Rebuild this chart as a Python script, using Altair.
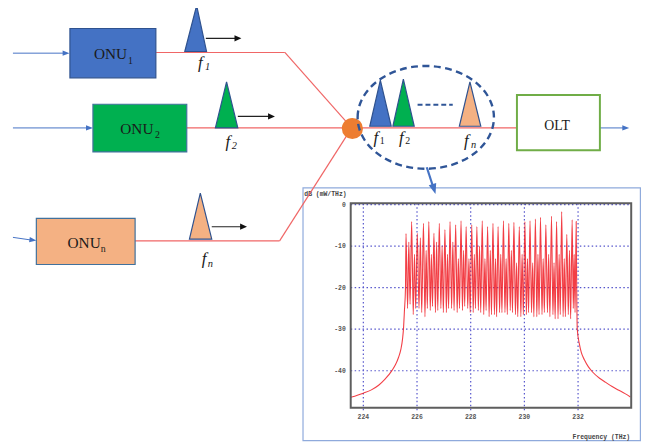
import altair as alt
import pandas as pd

# ---------------- spectrum ----------------
skirt_left_freq = [223.53, 224.0, 224.3, 224.57, 224.8, 225.07, 225.2, 225.31, 225.4,
                   225.46, 225.5, 225.53, 225.57]
skirt_left_db = [-46.4, -45.4, -44.6, -43.5, -42.1, -39.9, -38.5, -36.8, -34.8,
                 -32.4, -29.5, -25.7, -20.2]

peak_freq = [225.59, 225.80, 226.01, 226.24, 226.44, 226.63, 226.83, 227.04, 227.23,
             227.44, 227.64, 227.83, 228.04, 228.23, 228.43, 228.63, 228.83, 229.02,
             229.22, 229.42, 229.61, 229.81, 230.02, 230.21, 230.41, 230.60, 230.80,
             231.01, 231.20, 231.39, 231.58, 231.78, 231.93]
peak_db = [-7.0, -4.1, -6.9, -4.5, -4.1, -6.9, -4.5, -6.0, -4.1, -4.9, -3.9, -5.3,
           -4.9, -5.3, -3.9, -5.3, -4.5, -5.3, -3.9, -4.5, -4.3, -5.3, -4.1, -3.9,
           -3.5, -3.1, -4.9, -2.8, -4.1, -1.7, -7.2, -3.7, -4.1]
valley_a_db = [-25, -26.5, -25, -27, -25.5, -26, -25, -26, -25, -26, -25.5, -25,
               -26, -25.5, -26.5, -27, -26.5, -26, -26, -25.5, -26.5, -27, -26.5, -26,
               -27, -26.5, -26, -26.5, -27.5, -27, -26.5, -25]
shoulder_db = [-9, -12, -8, -11, -12, -9, -10, -12, -9, -13, -11, -13, -12, -10,
               -13, -11, -13, -12, -13, -11, -14, -12, -13, -14, -12, -13, -12, -14,
               -12, -13, -11, -12]
valley_b_db = [-24, -25, -26, -25, -24.5, -25.5, -26, -25, -25.5, -25, -24.5, -26,
               -25, -26, -25.5, -26.5, -27, -26, -26.5, -26, -27, -26.5, -26, -27,
               -26.5, -26, -27, -27.5, -26.5, -27, -27.5, -26]
skirt_right_freq = [231.95, 231.97, 232.05, 232.12, 232.24, 232.38, 232.54, 232.8,
                    233.03, 233.27, 233.52, 233.75, 233.95]
skirt_right_db = [-21.0, -30.0, -33.6, -35.6, -37.4, -39.0, -40.3, -41.8,
                  -42.8, -43.8, -44.7, -45.5, -46.3]

freq_domain = [223.53, 233.98]
db_domain = [-48.9, 0.3]
x_ticks = [224, 226, 228, 230, 232]
y_ticks = [0, -10, -20, -30, -40]

# ---------------- diagram elements (reference pixel coordinates) ----------------
box_x = [70.7, 94.0, 36.7, 523.3]
box_x2 = [157.7, 189.0, 136.7, 607.3]
box_y = [26.0, 102.7, 218.3, 93.3]
box_y2 = [76.0, 151.0, 265.0, 149.3]
box_fill = ["#4472c4", "#00b050", "#f4b183", "#ffffff"]
box_stroke = ["#2f528f", "#41719c", "#41719c", "#70ad47"]
box_sw = [1.2, 1.2, 1.2, 2.0]

inset_box = {"x": 306.7, "x2": 648.3, "y": 187.3, "y2": 443.3}

red_x = [158.0, 288.3, 189.0, 136.7, 283.0, 356.0]
red_y = [50.3, 50.3, 126.7, 241.0, 241.0, 126.7]
red_x2 = [288.3, 356.0, 356.0, 283.0, 356.0, 523.3]
red_y2 = [50.3, 126.7, 126.7, 241.0, 126.7, 126.7]

blue_x = [13.0, 13.0, 13.0, 607.3, 432.0]
blue_y = [51.0, 126.7, 237.5, 126.7, 166.5]
blue_x2 = [67.0, 91.0, 33.5, 634.0, 439.0]
blue_y2 = [51.0, 126.7, 240.5, 126.7, 188.0]
blue_w = [1.0, 1.0, 1.0, 1.0, 2.2]

black_x = [208.3, 240.7, 214.3]
black_y = [36.0, 115.0, 226.7]
black_x2 = [241.0, 275.0, 247.0]

head_blue_x = [66.8, 90.5, 33.2, 633.5, 439.3]
head_blue_y = [51.0, 126.7, 240.3, 126.7, 188.6]
head_blue_angle = [0, 0, 8, 0, 73]
head_blue_size = [49, 49, 49, 49, 110]
head_black_x = [240.8, 274.8, 246.5]
head_black_y = [36.0, 115.0, 226.7]

tri_id = ["t1"] * 3 + ["t2"] * 3 + ["tn"] * 3 + ["e1"] * 3 + ["e2"] * 3 + ["en"] * 3
tri_x = [187.0, 199.0, 209.0, 218.0, 229.3, 240.7, 191.7, 202.7, 214.3,
         374.3, 385.0, 396.0, 397.7, 408.3, 419.3, 465.0, 475.7, 486.7]
tri_y = [49.3, 2.7, 49.3, 126.7, 80.0, 126.7, 239.3, 192.7, 239.3,
         125.0, 78.3, 125.0, 125.0, 77.3, 125.0, 125.0, 80.0, 125.0]
tri_base = [49.3] * 3 + [126.7] * 3 + [239.3] * 3 + [125.0] * 9
tri_fill = ["#4472c4"] * 3 + ["#00b050"] * 3 + ["#f4b183"] * 3 + \
           ["#4472c4"] * 3 + ["#00b050"] * 3 + ["#f4b183"] * 3

combiner = {"x": 356.7, "y": 127.3}
ellipse = {"x": 431.0, "y": 116.0}
dots_line = {"x": 422.7, "x2": 458.3, "y": 103.3}

main_text = ["ONU", "ONU", "ONU", "OLT"]
main_x = [95.0, 121.7, 68.3, 551.0]
main_y = [57.3, 133.3, 248.3, 128.3]
main_size = [15.5, 15.5, 15.5, 14.0]

sub_text = ["1", "2", "n", "1", "2"]
sub_x = [129.5, 156.9, 101.9, 384.3, 410.3]
sub_y = [62.0, 137.0, 252.0, 143.3, 143.3]

f_x = [200.5, 228.2, 204.2, 378.0, 404.0, 469.8]
f_y = [66.0, 146.0, 264.0, 141.5, 141.5, 145.0]

fsub_text = ["1", "2", "n", "n"]
fsub_x = [207.5, 234.5, 210.2, 476.7]
fsub_y = [68.0, 148.0, 267.0, 147.5]

# ---------------- scales ----------------
px_x = alt.Scale(domain=[8, 656], range=[0, 648], nice=False, zero=False)
px_y = alt.Scale(domain=[8, 445], range=[0, 437], nice=False, zero=False)
sp_x = alt.Scale(domain=freq_domain, range=[347, 631], nice=False, zero=False)
sp_y = alt.Scale(domain=db_domain, range=[402, 195], nice=False, zero=False)


def PX(f):
    return alt.X(f, scale=px_x, axis=None)


def PY(f):
    return alt.Y(f, scale=px_y, axis=None)


def SX(f):
    return alt.X(f, scale=sp_x, axis=None)


def SY(f):
    return alt.Y(f, scale=sp_y, axis=None)


# spectrum line table
sf, sd = list(skirt_left_freq), list(skirt_left_db)
for i, (f, d) in enumerate(zip(peak_freq, peak_db)):
    sf.append(f)
    sd.append(d)
    if i < len(peak_freq) - 1:
        g = peak_freq[i + 1] - f
        sf += [f + g * 0.28, f + g * 0.5, f + g * 0.72]
        sd += [valley_a_db[i], shoulder_db[i], valley_b_db[i]]
sf += skirt_right_freq
sd += skirt_right_db
spec = pd.DataFrame({"f": sf, "db": sd})

layers = []

# inset white box
layers.append(alt.Chart(pd.DataFrame([inset_box])).mark_rect(
    fill="white", stroke="#8faadc", strokeWidth=1.2).encode(
    x=PX("x:Q"), x2="x2:Q", y=PY("y:Q"), y2="y2:Q"))

# spectrum grid
vgrid = pd.DataFrame({"f": x_ticks, "lo": [db_domain[0] - 0.6] * len(x_ticks),
                      "hi": [db_domain[1]] * len(x_ticks)})
layers.append(alt.Chart(vgrid).mark_rule(color="#5555cc", strokeWidth=1.2,
                                         strokeDash=[1.5, 2.5]).encode(
    x=SX("f:Q"), y=SY("lo:Q"), y2="hi:Q"))
hgrid = pd.DataFrame({"d": y_ticks, "lo": [freq_domain[0]] * len(y_ticks),
                      "hi": [freq_domain[1]] * len(y_ticks)})
layers.append(alt.Chart(hgrid).mark_rule(color="#5555cc", strokeWidth=1.2,
                                         strokeDash=[1.5, 2.5]).encode(
    y=SY("d:Q"), x=SX("lo:Q"), x2="hi:Q"))

# spectrum line
layers.append(alt.Chart(spec).mark_line(color="#f01c24", strokeWidth=1.1,
                                        opacity=0.85, interpolate="monotone").encode(
    x=SX("f:Q"), y=SY("db:Q"), order="f:Q"))

# frame
frame = pd.DataFrame({"x": [freq_domain[0]], "x2": [freq_domain[1]],
                      "y": [db_domain[0]], "y2": [db_domain[1]]})
layers.append(alt.Chart(frame).mark_rect(fill=None, stroke="#5e5e5e",
                                         strokeWidth=2).encode(
    x=SX("x:Q"), x2="x2:Q", y=SY("y:Q"), y2="y2:Q"))

# tick labels
xl = pd.DataFrame({"f": x_ticks, "d": [db_domain[0]] * len(x_ticks),
                   "t": [str(v) for v in x_ticks]})
layers.append(alt.Chart(xl).mark_text(font="Liberation Mono", fontSize=6.5,
                                      fontWeight="bold", color="#555", dy=9).encode(
    x=SX("f:Q"), y=SY("d:Q"), text="t:N"))
yl = pd.DataFrame({"d": y_ticks, "f": [freq_domain[0]] * len(y_ticks),
                   "t": [str(v) for v in y_ticks]})
layers.append(alt.Chart(yl).mark_text(font="Liberation Mono", fontSize=6.5,
                                      fontWeight="bold", color="#555", align="right",
                                      dx=-5).encode(
    x=SX("f:Q"), y=SY("d:Q"), text="t:N"))

# axis titles of the inset
titles = pd.DataFrame({"x": [308.0], "y": [196.0], "t": ["dB (mW/THz)"]})
layers.append(alt.Chart(titles).mark_text(font="Liberation Mono", fontSize=6.5,
                                          fontWeight="bold", color="#444", align="left",
                                          baseline="alphabetic").encode(
    x=PX("x:Q"), y=PY("y:Q"), text="t:N"))
titles2 = pd.DataFrame({"x": [638.0], "y": [441.5], "t": ["Frequency (THz)"]})
layers.append(alt.Chart(titles2).mark_text(font="Liberation Mono", fontSize=6.5,
                                           fontWeight="bold", color="#444", align="right",
                                           baseline="alphabetic").encode(
    x=PX("x:Q"), y=PY("y:Q"), text="t:N"))

# red fibre lines
red = pd.DataFrame({"x": red_x, "y": red_y, "x2": red_x2, "y2": red_y2})
layers.append(alt.Chart(red).mark_rule(color="#f06666", strokeWidth=1.2).encode(
    x=PX("x:Q"), y=PY("y:Q"), x2="x2:Q", y2="y2:Q"))

# blue arrows
blue = pd.DataFrame({"x": blue_x, "y": blue_y, "x2": blue_x2, "y2": blue_y2, "w": blue_w})
layers.append(alt.Chart(blue).mark_rule(color="#4472c4").encode(
    x=PX("x:Q"), y=PY("y:Q"), x2="x2:Q", y2="y2:Q",
    strokeWidth=alt.StrokeWidth("w:Q", scale=None)))

# black arrows
black = pd.DataFrame({"x": black_x, "y": black_y, "x2": black_x2})
layers.append(alt.Chart(black).mark_rule(color="#222222", strokeWidth=1.1).encode(
    x=PX("x:Q"), y=PY("y:Q"), x2="x2:Q"))

# boxes
boxes = pd.DataFrame({"x": box_x, "x2": box_x2, "y": box_y, "y2": box_y2,
                      "fill": box_fill, "stroke": box_stroke, "sw": box_sw})
layers.append(alt.Chart(boxes).mark_rect().encode(
    x=PX("x:Q"), x2="x2:Q", y=PY("y:Q"), y2="y2:Q",
    fill=alt.Fill("fill:N", scale=None), stroke=alt.Stroke("stroke:N", scale=None),
    strokeWidth=alt.StrokeWidth("sw:Q", scale=None)))

# triangles (frequency carriers)
tri = pd.DataFrame({"id": tri_id, "x": tri_x, "y": tri_y, "b": tri_base, "fill": tri_fill})
layers.append(alt.Chart(tri).mark_area(stroke="#2f528f", strokeWidth=1.2,
                                       interpolate="linear").encode(
    x=PX("x:Q"), y=alt.Y("y:Q", scale=px_y, axis=None, stack=None), y2="b:Q",
    fill=alt.Fill("fill:N", scale=None), detail="id:N"))

# combiner
layers.append(alt.Chart(pd.DataFrame([combiner])).mark_circle(
    color="#ed7d31", opacity=1, size=458).encode(x=PX("x:Q"), y=PY("y:Q")))

# dashed ellipse
layers.append(alt.Chart(pd.DataFrame([ellipse])).mark_point(
    shape="M -1 0 A 1 0.754 0 1 1 1 0 A 1 0.754 0 1 1 -1 0 Z",
    size=19044, filled=False, color="#2f5597", strokeWidth=2.4,
    strokeDash=[7, 4.5], opacity=1).encode(x=PX("x:Q"), y=PY("y:Q")))

# dashed line between carriers
layers.append(alt.Chart(pd.DataFrame([dots_line])).mark_rule(
    color="#2f5597", strokeWidth=2, strokeDash=[5, 3]).encode(
    x=PX("x:Q"), x2="x2:Q", y=PY("y:Q")))

# arrow heads
hb = pd.DataFrame({"x": head_blue_x, "y": head_blue_y, "a": head_blue_angle,
                   "s": head_blue_size})
layers.append(alt.Chart(hb).mark_point(
    shape="M -1 -0.75 L 1 0 L -1 0.75 Z", filled=True, color="#4472c4",
    opacity=1, strokeWidth=0).encode(
    x=PX("x:Q"), y=PY("y:Q"), angle=alt.Angle("a:Q", scale=None),
    size=alt.Size("s:Q", scale=None)))
hk = pd.DataFrame({"x": head_black_x, "y": head_black_y})
layers.append(alt.Chart(hk).mark_point(
    shape="M -1 -0.9 L 1 0 L -1 0.9 Z", filled=True, color="#111111",
    opacity=1, strokeWidth=0, size=49).encode(x=PX("x:Q"), y=PY("y:Q")))

# texts
serif = "Liberation Serif"
mt = pd.DataFrame({"x": main_x, "y": main_y, "t": main_text, "s": main_size})
layers.append(alt.Chart(mt).mark_text(font=serif, align="left", baseline="alphabetic",
                                      color="#1a1a1a").encode(
    x=PX("x:Q"), y=PY("y:Q"), text="t:N", size=alt.Size("s:Q", scale=None)))
st = pd.DataFrame({"x": sub_x, "y": sub_y, "t": sub_text})
layers.append(alt.Chart(st).mark_text(font=serif, align="left", baseline="alphabetic",
                                      fontSize=10, color="#1a1a1a").encode(
    x=PX("x:Q"), y=PY("y:Q"), text="t:N"))
ft = pd.DataFrame({"x": f_x, "y": f_y, "t": ["f"] * len(f_x)})
layers.append(alt.Chart(ft).mark_text(font=serif, align="left", baseline="alphabetic",
                                      fontSize=17, fontStyle="italic",
                                      color="#1a1a1a").encode(
    x=PX("x:Q"), y=PY("y:Q"), text="t:N"))
fst = pd.DataFrame({"x": fsub_x, "y": fsub_y, "t": fsub_text})
layers.append(alt.Chart(fst).mark_text(font=serif, align="left", baseline="alphabetic",
                                       fontSize=10.5, fontStyle="italic",
                                       color="#1a1a1a").encode(
    x=PX("x:Q"), y=PY("y:Q"), text="t:N"))

chart = alt.layer(*layers).resolve_scale(x="independent", y="independent").properties(
    width=648, height=437, padding=0,
    autosize=alt.AutoSizeParams(type="none"), background="white"
).configure_view(stroke=None)

chart.save("out.html", embed_options={"renderer": "svg", "actions": False})
